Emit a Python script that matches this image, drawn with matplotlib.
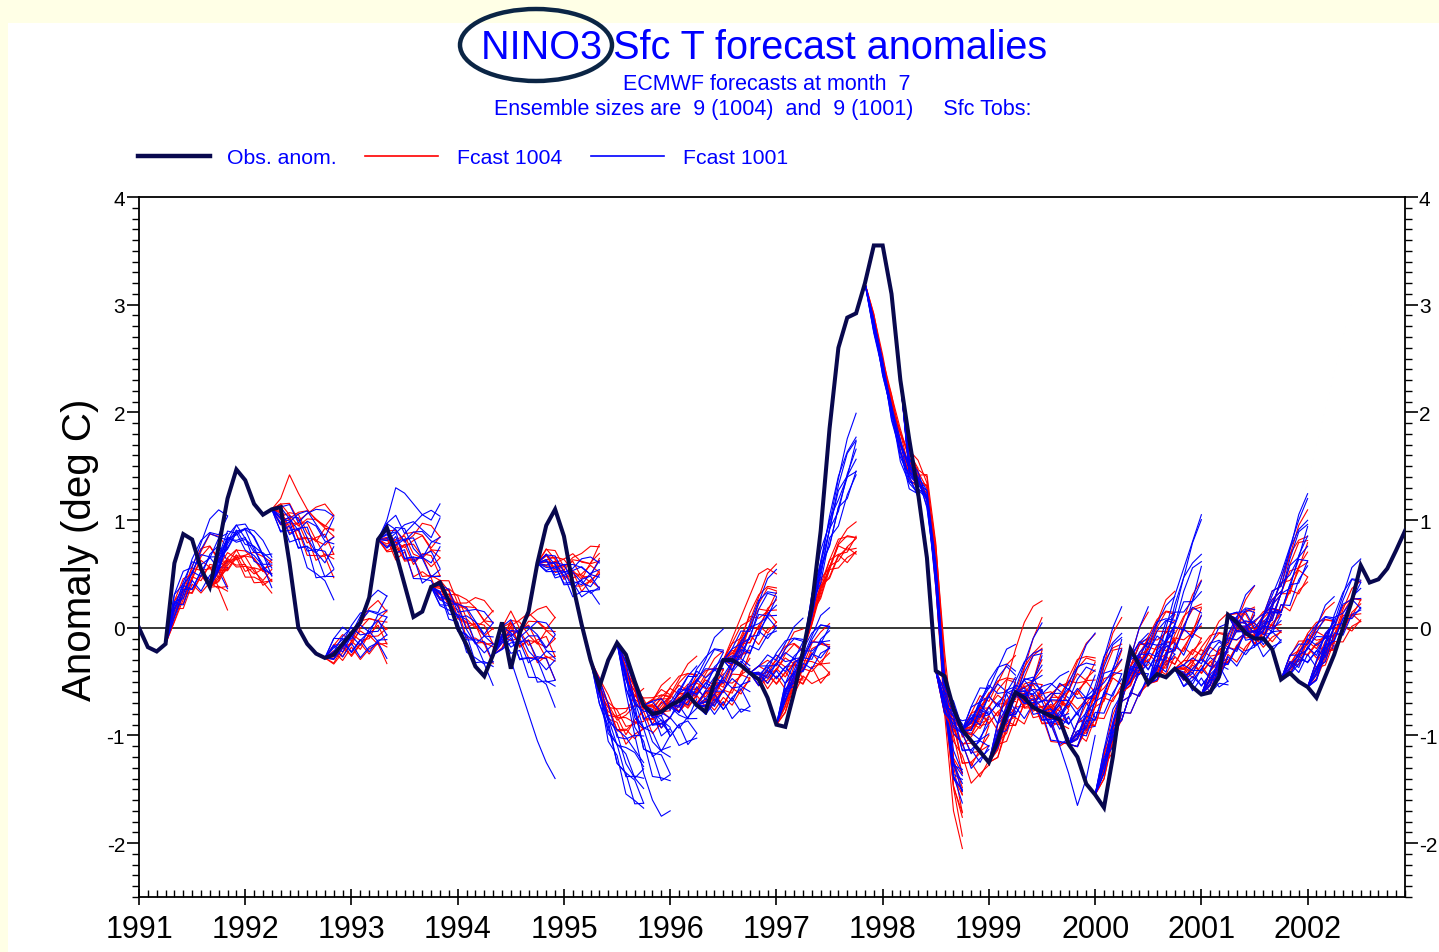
import matplotlib
matplotlib.use("Agg")
import matplotlib.pyplot as plt
import numpy as np
from matplotlib.lines import Line2D
from matplotlib.patches import Ellipse, Rectangle

W, H = 1439, 953

# observed NINO3 anomaly, monthly from Jan 1991
obs = [
    0.0, -0.18, -0.22, -0.15, 0.6, 0.87, 0.82, 0.55, 0.38, 0.75, 1.2, 1.47,
    1.37, 1.15, 1.05, 1.1, 1.12, 0.6, 0.0, -0.15, -0.24, -0.28, -0.25, -0.15,
    -0.05, 0.05, 0.28, 0.82, 0.93, 0.7, 0.4, 0.1, 0.15, 0.38, 0.42, 0.25,
    0.0, -0.16, -0.36, -0.45, -0.25, 0.05, -0.38, -0.05, 0.15, 0.6, 0.95, 1.1,
    0.85, 0.4, 0.03, -0.3, -0.55, -0.3, -0.14, -0.25, -0.5, -0.72, -0.8, -0.78,
    -0.72, -0.68, -0.62, -0.72, -0.78, -0.5, -0.3, -0.3, -0.35, -0.42, -0.48, -0.65,
    -0.9, -0.92, -0.6, -0.22, 0.2, 0.9, 1.85, 2.6, 2.88, 2.92, 3.2, 3.55,
    3.55, 3.1, 2.3, 1.75, 1.25, 0.65, -0.4, -0.45, -0.75, -0.95, -1.05, -1.15,
    -1.25, -1.05, -0.8, -0.6, -0.65, -0.74, -0.78, -0.82, -0.85, -1.08, -1.2, -1.45,
    -1.55, -1.67, -1.2, -0.6, -0.2, -0.35, -0.52, -0.43, -0.46, -0.38, -0.45, -0.55,
    -0.62, -0.6, -0.45, 0.12, 0.05, -0.05, -0.1, -0.1, -0.2, -0.48, -0.42, -0.5,
    -0.55, -0.65, -0.45, -0.25, 0.0, 0.25, 0.58, 0.42, 0.45, 0.55, 0.72, 0.9,
]

# forecast start months (index into obs) and ensemble mean paths by lead
plume_start = [3, 8, 15, 21, 27, 33, 40, 45, 51, 54, 57, 60, 63, 66, 69, 72, 75,
               82, 86, 90, 93, 96, 99, 102, 105, 108, 111, 114, 117, 120, 123, 126, 129, 132]

red_mean = [
    [0.15, 0.3, 0.45, 0.55, 0.6, 0.55, 0.5],
    [0.5, 0.6, 0.65, 0.6, 0.55, 0.5, 0.5],
    [1.05, 1.0, 0.95, 0.9, 0.85, 0.85, 0.8],
    [-0.25, -0.2, -0.15, -0.1, -0.05, 0.0, -0.05],
    [0.8, 0.75, 0.75, 0.7, 0.7, 0.65, 0.6],
    [0.35, 0.3, 0.2, 0.1, 0.05, 0.0, -0.05],
    [-0.1, 0.0, -0.05, -0.05, -0.1, -0.1, -0.15],
    [0.65, 0.6, 0.55, 0.55, 0.5, 0.55, 0.6],
    [-0.55, -0.75, -0.85, -0.9, -0.85, -0.8],
    [-0.4, -0.6, -0.75, -0.8, -0.75, -0.7],
    [-0.75, -0.7, -0.65, -0.6, -0.55, -0.5],
    [-0.7, -0.65, -0.6, -0.55, -0.5, -0.45],
    [-0.7, -0.65, -0.6, -0.5, -0.4, -0.3],
    [-0.25, -0.15, 0.0, 0.1, 0.2, 0.25],
    [-0.45, -0.45, -0.4, -0.35, -0.3, -0.3],
    [-0.7, -0.5, -0.4, -0.3, -0.3, -0.25],
    [0.1, 0.35, 0.55, 0.7, 0.75, 0.8],
    [2.85, 2.45, 2.1, 1.75, 1.5, 1.35],
    [1.55, 1.4, 1.3, 0.6, -0.5, -1.3, -1.6],
    [-0.7, -0.9, -1.1, -1.15, -1.1, -1.0],
    [-0.9, -0.8, -0.75, -0.7, -0.65, -0.6],
    [-1.1, -0.9, -0.75, -0.6, -0.45, -0.3],
    [-0.65, -0.7, -0.75, -0.8, -0.85, -0.85],
    [-0.75, -0.7, -0.6, -0.5, -0.45, -0.4],
    [-1.0, -0.9, -0.75, -0.55, -0.4, -0.3],
    [-1.3, -1.0, -0.7, -0.5, -0.35, -0.25],
    [-0.45, -0.3, -0.2, -0.1, 0.0, 0.05],
    [-0.4, -0.3, -0.2, -0.1, 0.0, 0.1],
    [-0.4, -0.35, -0.3, -0.25, -0.2, -0.15],
    [-0.5, -0.35, -0.2, -0.1, 0.0, 0.1],
    [0.05, 0.0, -0.05, 0.0, 0.05, 0.1],
    [0.0, 0.15, 0.3, 0.45, 0.6, 0.7],
    [-0.35, -0.25, -0.15, -0.1, -0.05, 0.0],
    [-0.4, -0.25, -0.1, 0.05, 0.15, 0.2],
]

blue_mean = [
    [0.2, 0.35, 0.5, 0.6, 0.7, 0.75, 0.75],
    [0.6, 0.8, 0.88, 0.85, 0.75, 0.65, 0.55],
    [1.0, 0.95, 0.9, 0.85, 0.75, 0.7, 0.7],
    [-0.2, -0.15, -0.1, -0.05, 0.0, 0.05, 0.05],
    [0.85, 0.85, 0.8, 0.75, 0.7, 0.7, 0.7],
    [0.3, 0.2, 0.1, 0.0, -0.1, -0.15, -0.2],
    [-0.1, -0.1, -0.15, -0.2, -0.25, -0.3, -0.35],
    [0.6, 0.55, 0.5, 0.45, 0.45, 0.45, 0.45],
    [-0.6, -0.9, -1.1, -1.25, -1.35, -1.4],
    [-0.45, -0.75, -0.95, -1.05, -1.1, -1.1],
    [-0.8, -0.85, -0.85, -0.8, -0.8, -0.75],
    [-0.7, -0.6, -0.5, -0.45, -0.35, -0.3],
    [-0.7, -0.65, -0.6, -0.55, -0.5, -0.5],
    [-0.3, -0.2, -0.1, 0.05, 0.15, 0.2],
    [-0.45, -0.4, -0.35, -0.3, -0.25, -0.2],
    [-0.6, -0.45, -0.3, -0.2, -0.1, -0.05],
    [0.2, 0.55, 0.9, 1.2, 1.45, 1.65],
    [2.8, 2.4, 2.0, 1.65, 1.4, 1.3],
    [1.5, 1.35, 1.2, 0.5, -0.6, -1.3, -1.45],
    [-0.7, -0.85, -1.0, -1.05, -1.0, -0.9],
    [-0.85, -0.75, -0.65, -0.6, -0.55, -0.55],
    [-1.0, -0.8, -0.65, -0.55, -0.45, -0.35],
    [-0.6, -0.65, -0.7, -0.75, -0.8, -0.8],
    [-0.8, -0.75, -0.7, -0.65, -0.6, -0.55],
    [-1.0, -0.85, -0.7, -0.5, -0.35, -0.2],
    [-1.25, -0.95, -0.7, -0.5, -0.35, -0.2],
    [-0.4, -0.3, -0.25, -0.15, -0.1, -0.05],
    [-0.35, -0.2, 0.0, 0.15, 0.3, 0.45],
    [-0.45, -0.45, -0.4, -0.35, -0.3, -0.3],
    [-0.5, -0.35, -0.2, -0.1, 0.0, 0.05],
    [0.05, 0.0, -0.05, -0.05, 0.0, 0.05],
    [0.0, 0.15, 0.3, 0.5, 0.7, 0.85],
    [-0.35, -0.3, -0.2, -0.15, -0.05, 0.0],
    [-0.4, -0.2, 0.0, 0.15, 0.3, 0.35],
]

red_spread = [0.3, 0.15, 0.3, 0.25, 0.3, 0.25, 0.3, 0.2, 0.2, 0.2, 0.2, 0.2, 0.25,
              0.3, 0.25, 0.25, 0.15, 0.1, 0.3, 0.35, 0.3, 0.35, 0.3, 0.3, 0.35,
              0.35, 0.25, 0.3, 0.25, 0.25, 0.2, 0.35, 0.2, 0.2]
blue_spread = [0.35, 0.15, 0.4, 0.3, 0.4, 0.3, 0.35, 0.2, 0.35, 0.4, 0.35, 0.25, 0.35,
               0.3, 0.25, 0.2, 0.3, 0.1, 0.15, 0.3, 0.35, 0.35, 0.35, 0.45, 0.35,
               0.35, 0.3, 0.5, 0.3, 0.3, 0.25, 0.35, 0.25, 0.25]

# odd members that stray from their ensemble
extra_red = {
    15: [1.2, 1.42, 1.25, 1.1, 1.0, 0.95, 0.9],
    66: [-0.1, 0.1, 0.3, 0.5, 0.55, 0.5],
    86: [1.5, 1.35, 1.25, 0.4, -0.8, -1.7, -2.05],
    96: [-0.9, -0.5, -0.2, 0.05, 0.2, 0.25],
}
extra_blue = {
    27: [1.0, 1.3, 1.25, 1.15, 1.05, 1.0, 1.15],
    40: [-0.1, -0.3, -0.55, -0.8, -1.05, -1.25, -1.4],
    54: [-0.6, -1.0, -1.35, -1.6, -1.75, -1.7],
    102: [-0.9, -1.1, -1.35, -1.65, -1.4, -1.0],
    114: [-0.3, 0.0, 0.3, 0.55, 0.8, 1.05],
    126: [0.1, 0.3, 0.5, 0.75, 1.0, 1.2],
}

member_w = [-1.0, -0.72, -0.48, -0.25, -0.05, 0.15, 0.4, 0.68, 1.0]
wiggle = [
    [0, 0.10, -0.05, 0.12, -0.08, 0.05, 0.10, -0.05],
    [0, -0.08, 0.10, -0.04, 0.09, -0.10, 0.03, 0.08],
    [0, 0.05, 0.12, -0.10, 0.02, 0.10, -0.08, 0.04],
    [0, -0.12, -0.02, 0.08, -0.10, 0.06, 0.12, -0.06],
    [0, 0.06, -0.10, 0.04, 0.12, -0.04, -0.10, 0.09],
    [0, -0.04, 0.08, 0.12, -0.06, -0.12, 0.05, 0.10],
    [0, 0.12, 0.02, -0.08, 0.06, 0.10, -0.04, -0.10],
    [0, -0.10, -0.06, 0.05, 0.10, 0.02, -0.12, 0.06],
    [0, 0.08, 0.10, -0.12, -0.02, 0.08, 0.06, -0.08],
]

years = list(range(1991, 2003))
yticks = [-2, -1, 0, 1, 2, 3, 4]

NAVY = "#08084e"
RED = "#ff0000"
BLUE = "#0000ff"
FONT = "Liberation Sans"

t_obs = 1991 + np.arange(len(obs)) / 12.0

fig = plt.figure(figsize=(W / 100, H / 100), dpi=100)
fig.patch.set_facecolor("#ffffe6")
fig.add_artist(Rectangle((8 / W, 0), 1, 1 - 24 / H, transform=fig.transFigure,
                         facecolor="white", edgecolor="none", zorder=-10))

ax = fig.add_axes([139 / W, 1 - 898 / H, (1405 - 139) / W, (898 - 198) / H])
ax.set_facecolor("white")


def draw_plume(m0, mean, spread, extra, color):
    path = [obs[m0]] + mean
    n = len(path) - 1
    t = 1991 + (m0 + np.arange(n + 1)) / 12.0
    for i, w in enumerate(member_w):
        vals = [path[k] + spread * w * k / n + wiggle[i][k] * (0.4 + spread) for k in range(n + 1)]
        ax.plot(t, vals, color=color, lw=0.8, zorder=2)
    if extra is not None:
        ax.plot(t, [obs[m0]] + extra, color=color, lw=0.8, zorder=2)


for j, m0 in enumerate(plume_start):
    draw_plume(m0, red_mean[j], red_spread[j], extra_red.get(m0), RED)
    draw_plume(m0, blue_mean[j], blue_spread[j], extra_blue.get(m0), BLUE)

ax.axhline(0, color="black", lw=1.1, zorder=1)
ax.plot(t_obs, obs, color=NAVY, lw=2.9, zorder=4, solid_joinstyle="miter")

ax.set_xlim(1991, 2002.89)
ax.set_ylim(-2.5, 4)

ax.set_xticks(years)
ax.set_xticklabels([str(y) for y in years], fontsize=22, family=FONT)
ax.set_xticks(1991 + np.arange(0, 144) / 12.0, minor=True)
ax.set_yticks(yticks)
ax.set_yticklabels([str(v) for v in yticks], fontsize=15, family=FONT)
ax.set_yticks(np.arange(-2.5, 4.01, 0.1), minor=True)

ax.tick_params(axis="x", which="major", direction="inout", length=12, width=1.2, pad=6)
ax.tick_params(axis="x", which="minor", direction="in", length=5, width=1.0)
ax.tick_params(axis="y", which="major", direction="out", length=9, width=1.2,
               right=True, labelright=True, pad=1)
ax.tick_params(axis="y", which="minor", direction="out", length=5, width=1.0, right=True)
for s in ax.spines.values():
    s.set_linewidth(1.3)

fig.text(80 / W, 1 - 550 / H, "Anomaly (deg C)", rotation=90, ha="center", va="center",
         fontsize=29, family=FONT)

# titles
fig.text(481 / W, 1 - 48 / H, "NINO3 Sfc T forecast anomalies", ha="left", va="center",
         fontsize=28.5, color=BLUE, family=FONT)
fig.text(767 / W, 1 - 85 / H, "ECMWF forecasts at month  7", ha="center", va="center",
         fontsize=15.5, color=BLUE, family=FONT)
fig.text(763 / W, 1 - 110 / H, "Ensemble sizes are  9 (1004)  and  9 (1001)     Sfc Tobs:",
         ha="center", va="center", fontsize=15.5, color=BLUE, family=FONT)
fig.add_artist(Ellipse((536 / W, 1 - 46 / H), 152 / W, 72 / H, transform=fig.transFigure,
                       facecolor="none", edgecolor="#0b2545", lw=3.2))

# legend
legend_items = [(138, 210, NAVY, 3.2, "Obs. anom.", 227),
                (365, 438, RED, 1.2, "Fcast 1004", 457),
                (591, 664, BLUE, 1.2, "Fcast 1001", 683)]
for x0, x1, c, lw, label, xt in legend_items:
    fig.add_artist(Line2D([x0 / W, x1 / W], [1 - 157 / H, 1 - 157 / H], color=c, lw=lw,
                          transform=fig.transFigure))
    fig.text(xt / W, 1 - 158 / H, label, ha="left", va="center", fontsize=15.3, color=BLUE,
             family=FONT)

fig.savefig("out.png", dpi=100, facecolor=fig.get_facecolor())
